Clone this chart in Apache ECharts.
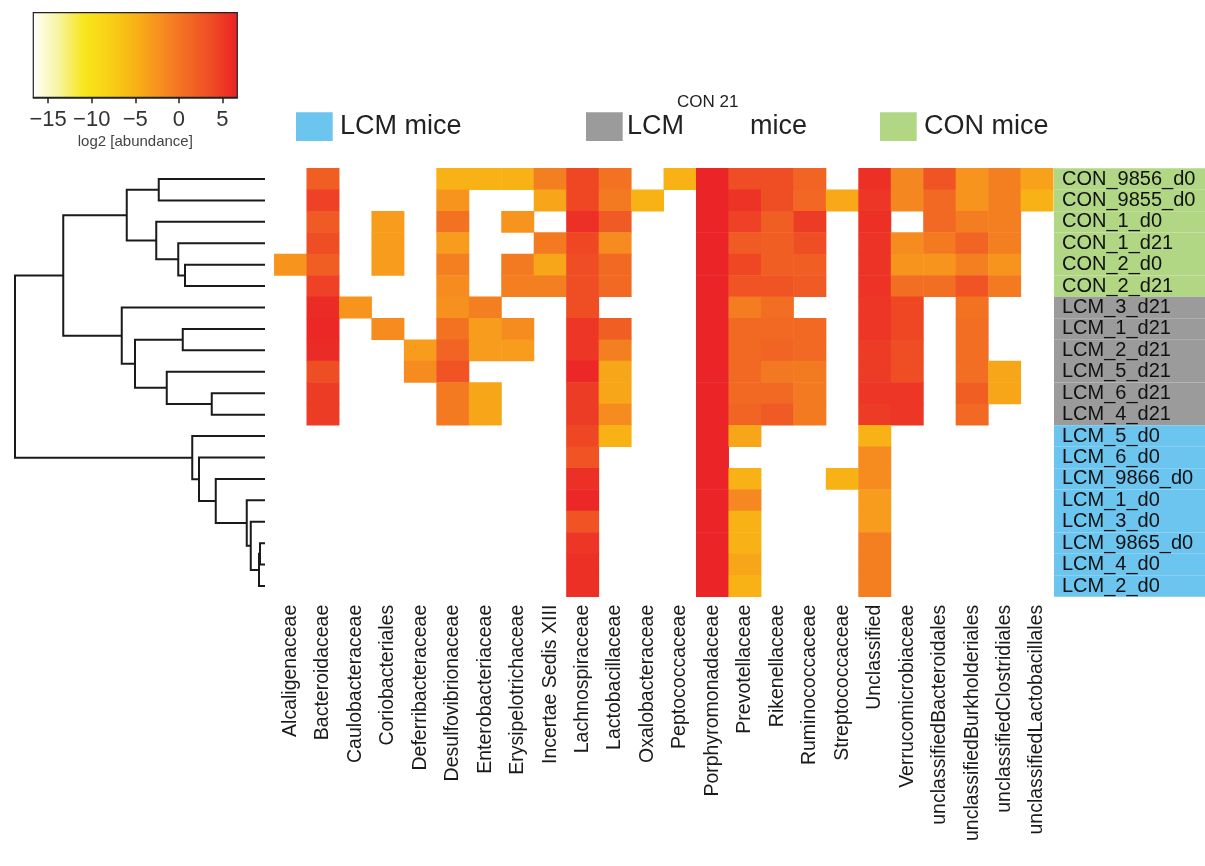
<!DOCTYPE html>
<html>
<head>
<meta charset="utf-8">
<title>log2 abundance heatmap</title>
<script src="https://cdn.jsdelivr.net/npm/echarts@6/dist/echarts.min.js"></script>
<style>
  html, body { margin: 0; padding: 0; background: #ffffff; }
  #chart { width: 1205px; height: 866px; }
</style>
</head>
<body>
<div id="chart"></div>
<script>
// ---- data ----------------------------------------------------------------
const families = [
  'Alcaligenaceae', 'Bacteroidaceae', 'Caulobacteraceae', 'Coriobacteriales',
  'Deferribacteraceae', 'Desulfovibrionaceae', 'Enterobacteriaceae',
  'Erysipelotrichaceae', 'Incertae Sedis XIII', 'Lachnospiraceae',
  'Lactobacillaceae', 'Oxalobacteraceae', 'Peptococcaceae', 'Porphyromonadaceae',
  'Prevotellaceae', 'Rikenellaceae', 'Ruminococcaceae', 'Streptococcaceae',
  'Unclassified', 'Verrucomicrobiaceae', 'unclassifiedBacteroidales',
  'unclassifiedBurkholderiales', 'unclassifiedClostridiales',
  'unclassifiedLactobacillales'
];

const conSamples = ['CON_9856_d0', 'CON_9855_d0', 'CON_1_d0', 'CON_1_d21', 'CON_2_d0', 'CON_2_d21'];
const lcmD21Samples = ['LCM_3_d21', 'LCM_1_d21', 'LCM_2_d21', 'LCM_5_d21', 'LCM_6_d21', 'LCM_4_d21'];
const lcmD0Samples = ['LCM_5_d0', 'LCM_6_d0', 'LCM_9866_d0', 'LCM_1_d0', 'LCM_3_d0', 'LCM_9865_d0', 'LCM_4_d0', 'LCM_2_d0'];

const _ = null; // family not detected in the sample

// log2 abundance, one row per sample, one column per family
const conValues = [
  [_, 2.0, _, _, _, -5, -5, -5, -0.8, 4.0, 0.3, _, -5, 6.5, 3.5, 3.5, 1.5, _, 5.6, -1.5, 2.9, -2.6, -0.8, -3.6],
  [_, 4.4, _, _, _, -2.6, _, _, -4, 4.0, -0.4, -5, _, 6.5, 5.4, 3.5, 1.2, -4.2, 5.2, -1.5, 1.0, -2.6, -0.8, -5],
  [_, 2.4, _, -3.2, _, 0.3, _, -2.6, _, 5.6, 2.4, _, _, 6.5, 4.4, 2.0, 4.8, _, 5.6, _, 1.0, -0.6, -0.8, _],
  [_, 3.5, _, -3.2, _, -3.2, _, _, -0.4, 4.0, -1.8, _, _, 6.5, 2.4, 2.0, 3.5, _, 5.4, -1.8, -0.4, 1.5, -0.8, _],
  [-2.6, 2.0, _, -3.2, _, -0.8, _, -0.4, -4, 3.5, 1.0, _, _, 6.5, 4.0, 2.0, 2.0, _, 5.4, -2.6, -2.6, -0.8, -2.6, _],
  [_, 4.4, _, _, _, -1.8, _, -0.8, -0.8, 3.5, 1.0, _, _, 6.5, 2.9, 2.9, 2.4, _, 5.4, 0.6, 0.6, 2.9, -0.4, _]
];
const lcmD21Values = [
  [_, 5.9, -2.6, _, _, -2.2, -0.8, _, _, 3.5, _, _, _, 6.5, -0.6, 0.6, _, _, 5.2, 4.0, _, 0.3, _, _],
  [_, 6.2, _, -1.8, _, 0.3, -3.2, -1.8, _, 5.2, 2.0, _, _, 6.5, 1.0, 1.0, 1.0, _, 5.2, 4.0, _, 0.6, _, _],
  [_, 5.9, _, _, -3.2, 1.5, -3.2, -3.2, _, 5.2, -0.8, _, _, 6.5, 1.0, 1.5, 1.0, _, 4.8, 3.5, _, 0.6, _, _],
  [_, 3.5, _, _, -1.8, 2.9, _, _, _, 6.3, -4, _, _, 6.5, 1.0, -0.2, -0.4, _, 4.8, 3.5, _, 0.6, -4, _],
  [_, 4.8, _, _, _, -0.4, -4, _, _, 4.8, -4, _, _, 6.5, 1.0, 1.0, -0.4, _, 5.2, 5.2, _, 2.0, -4, _],
  [_, 4.8, _, _, _, -0.4, -4, _, _, 4.8, -1.8, _, _, 6.5, 1.5, 2.4, -0.4, _, 4.8, 5.2, _, 1.0, _, _]
];
const lcmD0Values = [
  [_, _, _, _, _, _, _, _, _, 4.0, -5, _, _, 6.5, -4, _, _, _, -5, _, _, _, _, _],
  [_, _, _, _, _, _, _, _, _, 2.9, _, _, _, 6.5, _, _, _, _, -1.8, _, _, _, _, _],
  [_, _, _, _, _, _, _, _, _, 5.6, _, _, _, 6.5, -5, _, _, -5, -1.8, _, _, _, _, _],
  [_, _, _, _, _, _, _, _, _, 6.2, _, _, _, 6.5, -1.6, _, _, _, -3.2, _, _, _, _, _],
  [_, _, _, _, _, _, _, _, _, 2.9, _, _, _, 6.5, -5, _, _, _, -3.2, _, _, _, _, _],
  [_, _, _, _, _, _, _, _, _, 5.2, _, _, _, 6.5, -5, _, _, _, -0.8, _, _, _, _, _],
  [_, _, _, _, _, _, _, _, _, 5.6, _, _, _, 6.5, -4, _, _, _, -0.8, _, _, _, _, _],
  [_, _, _, _, _, _, _, _, _, 5.6, _, _, _, 6.5, -5, _, _, _, -0.8, _, _, _, _, _]
];

// sample clustering: [left, right, height]; negative = leaf (row number), positive = earlier merge
const dendroMerges = [
  [-1, -2, 0.425],
  [-5, -6, 0.32],
  [-4, 2, 0.347],
  [-3, 3, 0.435],
  [1, 4, 0.553],
  [-8, -9, 0.329],
  [-11, -12, 0.213],
  [-10, 7, 0.393],
  [6, 8, 0.52],
  [-7, 9, 0.573],
  [5, 10, 0.807],
  [-18, -19, 0.02],
  [12, -20, 0.024],
  [-17, 13, 0.057],
  [-16, 14, 0.073],
  [-15, 15, 0.197],
  [-14, 16, 0.264],
  [-13, 17, 0.291],
  [11, 18, 1.0]
];

// colour scale (log2 abundance)
const scaleMin = -16.7;
const scaleMax = 6.7;
const scaleTicks = [-15, -10, -5, 0, 5];
const scaleColors = ['#ffffff', '#f8f4a0', '#f7e71c', '#f9d016', '#f9b216', '#f68e1f', '#f26b23', '#ef4a24', '#ea2127'];

const groupColors = { con: '#b1d684', lcmD21: '#9b9b9b', lcmD0: '#6cc5ef' };

// ---- derived structures --------------------------------------------------
const samples = conSamples.concat(lcmD21Samples, lcmD0Samples);
const allRows = conValues.concat(lcmD21Values, lcmD0Values);
const sampleColors = conSamples.map(() => groupColors.con)
  .concat(lcmD21Samples.map(() => groupColors.lcmD21), lcmD0Samples.map(() => groupColors.lcmD0));

const heatData = [];
allRows.forEach((row, r) => {
  row.forEach((v, c) => { if (v !== null) heatData.push([c, r, v]); });
});

// dendrogram branches: [height, yA, heightA, yB, heightB]
const dendroSegments = [];
(function () {
  const nodeY = [], nodeH = [];
  const pos = id => id < 0 ? { y: -id, h: 0 } : { y: nodeY[id - 1], h: nodeH[id - 1] };
  dendroMerges.forEach(([a, b, h]) => {
    const A = pos(a), B = pos(b);
    nodeY.push((A.y + B.y) / 2);
    nodeH.push(h);
    dendroSegments.push([h, A.y, A.h, B.y, B.h]);
  });
})();

// ---- layout ---------------------------------------------------------------
const FONT = '"Liberation Sans", Arial, Helvetica, sans-serif';
const plotTop = 168.3, plotHeight = 428.4;

const chart = echarts.init(document.getElementById('chart'), null, { renderer: 'canvas' });

const option = {
  animation: false,
  backgroundColor: '#ffffff',
  textStyle: { fontFamily: FONT },
  grid: [
    { left: 274.3, top: plotTop, width: 779, height: plotHeight },   // heatmap
    { left: 15, top: plotTop, width: 250, height: plotHeight },      // dendrogram
    { left: 1054, top: plotTop, width: 151, height: plotHeight },    // sample labels
    { left: 33.3, top: 12.7, width: 204, height: 84.6 }              // colour bar
  ],
  xAxis: [
    {
      gridIndex: 0, type: 'category', data: families, position: 'bottom',
      axisLine: { show: false }, axisTick: { show: false }, splitLine: { show: false },
      axisLabel: { rotate: 90, interval: 0, fontSize: 19.5, color: '#1a1a1a', margin: 8, fontFamily: FONT }
    },
    { gridIndex: 1, type: 'value', min: 0, max: 1, inverse: true, show: false },
    { gridIndex: 2, type: 'value', min: 0, max: 1, show: false },
    {
      gridIndex: 3, type: 'value', min: scaleMin, max: scaleMax, position: 'bottom',
      splitLine: { show: false },
      axisLine: { show: true, lineStyle: { color: '#222', width: 1.5 } },
      axisTick: { show: true, customValues: scaleTicks, length: 6, lineStyle: { color: '#222', width: 1.5 } },
      axisLabel: {
        customValues: scaleTicks, fontSize: 22, color: '#333', margin: 12, fontFamily: FONT,
        formatter: v => String(v).replace('-', '\u2212')
      },
      name: 'log2 [abundance]', nameLocation: 'middle', nameGap: 37,
      nameTextStyle: { fontSize: 15, color: '#444', fontFamily: FONT }
    }
  ],
  yAxis: [
    { gridIndex: 0, type: 'category', data: samples, inverse: true, show: false },
    { gridIndex: 1, type: 'value', min: 0.5, max: samples.length + 0.5, inverse: true, show: false },
    { gridIndex: 2, type: 'category', data: samples, inverse: true, show: false },
    { gridIndex: 3, type: 'value', min: 0, max: 1, show: false }
  ],
  visualMap: {
    type: 'continuous', show: false, seriesIndex: 0, dimension: 2,
    min: scaleMin, max: scaleMax, inRange: { color: scaleColors }
  },
  series: [
    {
      type: 'heatmap', xAxisIndex: 0, yAxisIndex: 0, data: heatData,
      emphasis: { disabled: true }, itemStyle: { borderWidth: 0 }
    },
    {
      type: 'custom', xAxisIndex: 1, yAxisIndex: 1, data: dendroSegments, silent: true,
      renderItem: (params, api) => {
        const h = api.value(0), yA = api.value(1), hA = api.value(2), yB = api.value(3), hB = api.value(4);
        return {
          type: 'polyline',
          shape: { points: [api.coord([hA, yA]), api.coord([h, yA]), api.coord([h, yB]), api.coord([hB, yB])] },
          style: { stroke: '#1a1a1a', lineWidth: 2, fill: null }
        };
      }
    },
    {
      type: 'bar', xAxisIndex: 2, yAxisIndex: 2, barCategoryGap: '0%', barWidth: '100%', silent: true,
      data: samples.map((s, i) => ({ value: 1, itemStyle: { color: sampleColors[i] } })),
      label: {
        show: true, position: 'insideLeft', distance: 8, formatter: p => p.name,
        fontSize: 20, color: '#111', fontFamily: FONT
      }
    },
    {
      type: 'custom', xAxisIndex: 3, yAxisIndex: 3, data: [[scaleMin, scaleMax]], silent: true,
      renderItem: (params, api) => {
        const p0 = api.coord([api.value(0), 1]);
        const p1 = api.coord([api.value(1), 0]);
        const stops = scaleColors.map((c, i) => ({ offset: i / (scaleColors.length - 1), color: c }));
        return {
          type: 'rect',
          shape: { x: p0[0], y: p0[1], width: p1[0] - p0[0], height: p1[1] - p0[1] },
          style: { fill: new echarts.graphic.LinearGradient(0, 0, 1, 0, stops), stroke: '#222', lineWidth: 1.2 }
        };
      }
    }
  ],
  graphic: [
    { type: 'rect', shape: { x: 296, y: 112.3, width: 36.7, height: 28.7 }, style: { fill: groupColors.lcmD0 } },
    { type: 'text', x: 340, y: 127, style: { text: 'LCM mice', fontSize: 27, fontFamily: FONT, fill: '#222', verticalAlign: 'middle' } },
    { type: 'rect', shape: { x: 586, y: 112.3, width: 36.7, height: 28.7 }, style: { fill: groupColors.lcmD21 } },
    { type: 'text', x: 627, y: 127, style: { text: 'LCM', fontSize: 27, fontFamily: FONT, fill: '#222', verticalAlign: 'middle' } },
    { type: 'text', x: 677, y: 102, style: { text: 'CON 21', fontSize: 17, fontFamily: FONT, fill: '#222', verticalAlign: 'middle' } },
    { type: 'text', x: 750, y: 127, style: { text: 'mice', fontSize: 27, fontFamily: FONT, fill: '#222', verticalAlign: 'middle' } },
    { type: 'rect', shape: { x: 880, y: 112.3, width: 36.7, height: 28.7 }, style: { fill: groupColors.con } },
    { type: 'text', x: 924, y: 127, style: { text: 'CON mice', fontSize: 27, fontFamily: FONT, fill: '#222', verticalAlign: 'middle' } }
  ]
};

chart.setOption(option);
</script>
</body>
</html>
